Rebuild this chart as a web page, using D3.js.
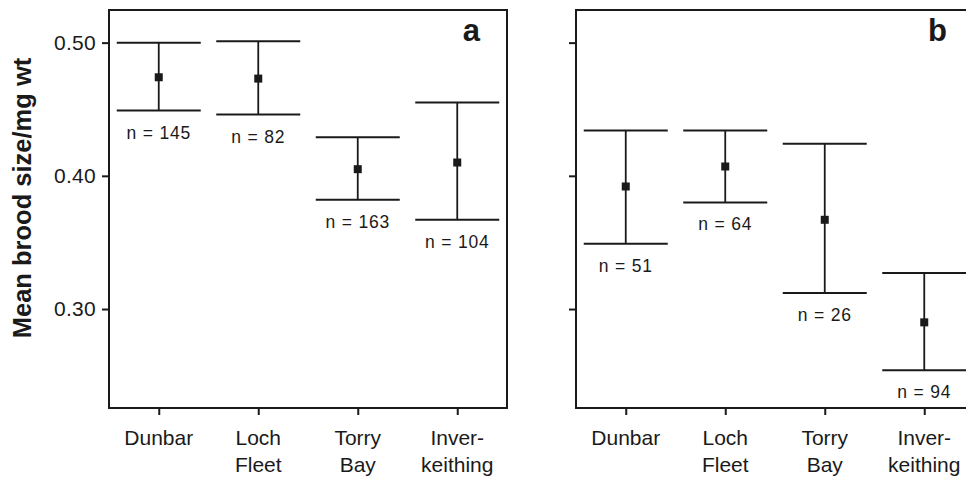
<!DOCTYPE html>
<html>
<head>
<meta charset="utf-8">
<script src="https://cdn.jsdelivr.net/npm/d3@7"></script>
<style>
  body { margin: 0; background: #fff; }
  svg text { font-family: "Liberation Sans", Arial, Helvetica, sans-serif; fill: #1a1a1a; }
</style>
</head>
<body>
<svg id="chart" width="966" height="479"></svg>
<script>

// Sites along the x axis, and how their names break over two lines
var sites = ["Dunbar", "Loch Fleet", "Torry Bay", "Inverkeithing"];
var site_lines = [["Dunbar"], ["Loch", "Fleet"], ["Torry", "Bay"], ["Inver-", "keithing"]];

// y axis ticks
var y_ticks = [0.30, 0.40, 0.50];

// Panel a
var mean_a  = [0.474, 0.473, 0.405, 0.410];
var upper_a = [0.500, 0.501, 0.429, 0.455];
var lower_a = [0.449, 0.446, 0.382, 0.367];
var n_a     = [145, 82, 163, 104];

// Panel b
var mean_b  = [0.392, 0.407, 0.367, 0.290];
var upper_b = [0.434, 0.434, 0.424, 0.327];
var lower_b = [0.349, 0.380, 0.312, 0.254];
var n_b     = [51, 64, 26, 94];

var ink = "#1a1a1a";
var top_y = 10, bottom_y = 408;
var panel_w = 398;

var svg = d3.select("#chart");

var y = d3.scaleLinear().domain([0.2257, 0.5245]).range([bottom_y, top_y]);

function drawPanel(left, letter, mean, upper, lower, n, show_labels){
    /* Draw one framed panel with its error bars and sample sizes */

    let x = d3.scalePoint().domain(sites).range([left, left + panel_w]).padding(0.5);
    let g = svg.append("g");

    let rows = sites.map(function(s, i){
        return {site: s, mean: mean[i], hi: upper[i], lo: lower[i], n: n[i]};
    });

    // frame
    g.append("rect")
      .attr("x", left).attr("y", top_y)
      .attr("width", panel_w).attr("height", bottom_y - top_y)
      .attr("fill", "none").attr("stroke", ink).attr("stroke-width", 2);

    // y axis ticks (labels only on panel a)
    let ya = d3.axisLeft(y).tickValues(y_ticks).tickSize(7).tickPadding(6)
               .tickFormat(show_labels ? d3.format(".2f") : "");
    let yg = g.append("g").attr("transform", "translate(" + left + ",0)").call(ya);
    yg.select(".domain").remove();
    yg.selectAll("line").attr("stroke", ink).attr("stroke-width", 2);
    yg.selectAll("text").attr("font-size", 21).attr("letter-spacing", 0.3).attr("fill", ink);

    // x axis ticks with two line labels
    let xa = d3.axisBottom(x).tickSize(7).tickFormat("");
    let xg = g.append("g").attr("transform", "translate(0," + bottom_y + ")").call(xa);
    xg.select(".domain").remove();
    xg.selectAll("line").attr("stroke", ink).attr("stroke-width", 2);

    g.selectAll(".site")
      .data(rows)
      .enter()
      .append("text")
      .attr("class", "site")
      .attr("text-anchor", "middle")
      .attr("font-size", 21)
      .attr("x", function(d){ return x(d.site); })
      .attr("y", bottom_y + 37)
      .each(function(d, i){
          let t = d3.select(this);
          site_lines[i].forEach(function(line, k){
              t.append("tspan")
               .attr("x", x(d.site))
               .attr("dy", k == 0 ? 0 : 27)
               .text(line);
          });
      });

    // error bars: stem plus wide caps
    let bars = g.selectAll(".bar").data(rows).enter().append("g").attr("class", "bar");

    bars.append("line")
      .attr("x1", function(d){ return x(d.site); })
      .attr("x2", function(d){ return x(d.site); })
      .attr("y1", function(d){ return y(d.hi); })
      .attr("y2", function(d){ return y(d.lo); })
      .attr("stroke", ink).attr("stroke-width", 1.8);

    ["hi", "lo"].forEach(function(key){
        bars.append("line")
          .attr("x1", function(d){ return x(d.site) - 42; })
          .attr("x2", function(d){ return x(d.site) + 42; })
          .attr("y1", function(d){ return y(d[key]); })
          .attr("y2", function(d){ return y(d[key]); })
          .attr("stroke", ink).attr("stroke-width", 2);
    });

    bars.append("rect")
      .attr("x", function(d){ return x(d.site) - 4; })
      .attr("y", function(d){ return y(d.mean) - 4; })
      .attr("width", 8).attr("height", 8)
      .attr("fill", ink);

    bars.append("text")
      .attr("text-anchor", "middle")
      .attr("font-size", 17.5)
      .attr("letter-spacing", 0.8)
      .attr("x", function(d){ return x(d.site); })
      .attr("y", function(d){ return y(d.lo) + 28; })
      .text(function(d){ return "n = " + d.n; });

    // panel letter
    g.append("text")
      .attr("x", left + panel_w - 27)
      .attr("y", 41)
      .attr("text-anchor", "end")
      .attr("font-size", 31)
      .attr("font-weight", "bold")
      .text(letter);
}

drawPanel(109, "a", mean_a, upper_a, lower_a, n_a, true);
drawPanel(576, "b", mean_b, upper_b, lower_b, n_b, false);

// y axis title
svg.append("text")
  .attr("transform", "translate(31,198) rotate(-90)")
  .attr("text-anchor", "middle")
  .attr("font-size", 25.5)
  .attr("font-weight", "bold")
  .text("Mean brood size/mg wt");

</script>
</body>
</html>
